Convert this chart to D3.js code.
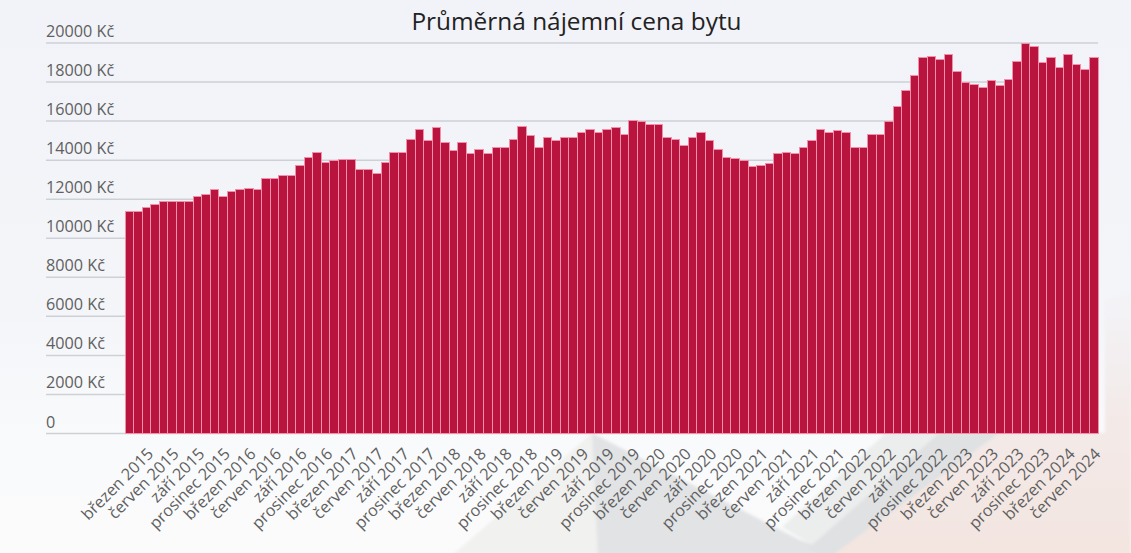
<!DOCTYPE html>
<html>
<head>
<meta charset="utf-8">
<script src="https://cdn.jsdelivr.net/npm/d3@7"></script>
<style>
  html, body { margin: 0; padding: 0; background: #f5f6f9; overflow: hidden; }
  text { font-family: "Open Sans", sans-serif; }
</style>
</head>
<body>
<svg id="chart" width="1131" height="553"></svg>
<script>
let monthNames = ["březen", "duben", "květen", "červen", "červenec", "srpen", "září", "říjen", "listopad", "prosinec", "leden", "únor"];
let yTicks = [0, 2000, 4000, 6000, 8000, 10000, 12000, 14000, 16000, 18000, 20000];
let rents2015to2017 = [11370, 11370, 11530, 11700, 11870, 11870, 11870, 11870, 12110, 12190, 12450, 12110, 12360, 12450, 12530, 12450, 13030, 13030, 13200, 13200, 13690, 14120, 14370, 13860, 13950, 14030, 14030, 13520, 13520, 13290, 13870, 14380, 14380, 15050, 15540, 14960];
let rents2018to2020 = [15630, 14880, 14470, 14880, 14300, 14530, 14300, 14620, 14620, 15050, 15710, 15220, 14620, 15130, 14960, 15130, 15130, 15370, 15540, 15370, 15540, 15630, 15300, 16030, 15950, 15800, 15800, 15130, 15050, 14700, 15130, 15370, 14960, 14530, 14120, 14040];
let rents2021to2024 = [13950, 13630, 13710, 13790, 14290, 14370, 14290, 14630, 14970, 15550, 15380, 15470, 15380, 14630, 14630, 15290, 15290, 15960, 16710, 17550, 18300, 19220, 19280, 19130, 19370, 18530, 17950, 17870, 17700, 18040, 17780, 18120, 19050, 19970, 19800, 18960, 19220, 18700, 19370, 18880, 18620, 19220];

let rents = rents2015to2017.concat(rents2018to2020, rents2021to2024);
// month names run from March 2015, the labels only show every third one
let months = rents.map((d, i) => {
    let year = 2015 + Math.floor((i + 2) / 12);
    return monthNames[i % 12] + " " + year;
});

let svg = d3.select("#chart");
let defs = svg.append("defs");

let bgGradient = defs.append("linearGradient")
                     .attr("id", "bg")
                     .attr("x1", 0).attr("y1", 0).attr("x2", 0).attr("y2", 1);
bgGradient.append("stop").attr("offset", "0%").attr("stop-color", "#f1f3f8");
bgGradient.append("stop").attr("offset", "55%").attr("stop-color", "#f3f5f9");
bgGradient.append("stop").attr("offset", "80%").attr("stop-color", "#f9fafb");
bgGradient.append("stop").attr("offset", "100%").attr("stop-color", "#fbfbfc");

let pinkGradient = defs.append("linearGradient")
                       .attr("id", "pinkbg")
                       .attr("x1", 0).attr("y1", 0).attr("x2", 0).attr("y2", 1);
pinkGradient.append("stop").attr("offset", "0%").attr("stop-color", "#f3f4f8");
pinkGradient.append("stop").attr("offset", "50%").attr("stop-color", "#f3e9e7");
pinkGradient.append("stop").attr("offset", "100%").attr("stop-color", "#f3e5e0");

defs.append("filter").attr("id", "soft")
    .append("feGaussianBlur").attr("stdDeviation", 1.6);

//faded building photo behind the chart
svg.append("rect").attr("width", 1131).attr("height", 553).attr("fill", "url(#bg)");
let photo = svg.append("g").attr("filter", "url(#soft)");
photo.append("path").attr("d", "M1131 290 L1131 560 L820 560 L999 433 L1105 433 L1105 300 Z").attr("fill", "url(#pinkbg)");
photo.append("path").attr("d", "M447 560 L592 433 L600 560 Z").attr("fill", "#f1f1ef");
photo.append("path").attr("d", "M592 433 L800 540 L850 560 L598 560 Z").attr("fill", "#e1e3e5");
photo.append("path").attr("d", "M886 433 L939 433 L812 545 L782 527 Z").attr("fill", "#eceded");
photo.append("path").attr("d", "M939 433 L999 433 L826 560 L800 540 L812 545 Z").attr("fill", "#dfe1e2");

let width = 1131, height = 553;
let margin = {left: 125, right: 33, top: 42.5, bottom: 120};

let x = d3.scaleBand()
          .domain(months)
          .range([margin.left, width - margin.right])
          .padding(0);

let y = d3.scaleLinear()
          .domain([0, 20000])
          .range([height - margin.bottom, margin.top]);

//grid lines and y labels
let yAxis = svg.append("g")
               .attr("transform", `translate(${width - margin.right}, 0)`)
               .call(d3.axisLeft(y)
                       .tickValues(yTicks)
                       .tickSize(width - margin.right - 46)
                       .tickFormat((d) => d === 0 ? "0" : d + " Kč"));
yAxis.select(".domain").remove();
yAxis.selectAll(".tick line")
     .attr("stroke", "#cdd1d6")
     .attr("stroke-width", 1.5);
yAxis.selectAll(".tick text")
     .attr("x", -(width - margin.right - 46))
     .attr("dy", -6)
     .attr("text-anchor", "start")
     .attr("fill", "#5f5f5f")
     .style("font-size", "16.2px");

//bars, strokes share the pixel between neighbours
svg.append("g")
   .selectAll("rect")
   .data(rents)
   .enter()
   .append("rect")
   .attr("x", (d, i) => x(months[i]))
   .attr("y", (d) => y(d))
   .attr("width", x.bandwidth())
   .attr("height", (d) => y(0) - y(d))
   .attr("fill", "#b8143e")
   .attr("stroke", "#f28fab")
   .attr("stroke-width", 1)
   .attr("shape-rendering", "crispEdges");

//x labels, only every third month
let labelMonths = months.filter((d, i) => i % 3 === 0);
svg.append("g")
   .selectAll("text")
   .data(labelMonths)
   .enter()
   .append("text")
   .text((d) => d)
   .attr("text-anchor", "end")
   .attr("transform", (d) => `translate(${x(d) + x.bandwidth() / 2 + 25}, 455) rotate(-45)`)
   .attr("fill", "#5f5f5f")
   .style("font-size", "16.2px");

svg.append("text")
   .text("Průměrná nájemní cena bytu")
   .attr("x", 576.5)
   .attr("y", 29.5)
   .attr("text-anchor", "middle")
   .attr("fill", "#222")
   .style("font-size", "24.4px");
</script>
</body>
</html>
